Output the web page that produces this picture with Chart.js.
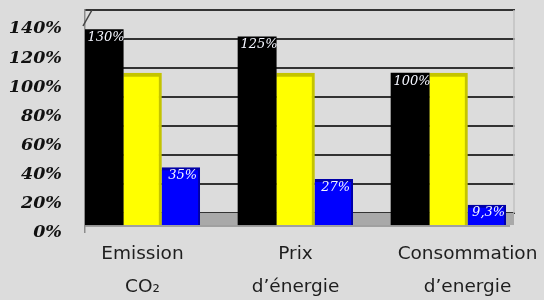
<!DOCTYPE html>
<html>
<head>
<meta charset="utf-8">
<script src="https://cdn.jsdelivr.net/npm/chart.js@4.4.1/dist/chart.umd.min.js"></script>
<style>
    html, body { margin: 0; padding: 0; background: #dcdcdc; }
    #wrap { width: 544px; height: 300px; }
</style>
</head>
<body>
<div id="wrap"><canvas id="chart"></canvas></div>
<script>
// données
const categories = [['Emission', 'CO₂'], ['Prix', 'd’énergie'], ['Consommation', 'd’energie']];
const serieNoire = [130, 125, 100];
const serieJaune = [100, 100, 100];
const serieBleue = [35, 27, 9.3];
const yTicks = [0, 20, 40, 60, 80, 100, 120, 140];

const BG = '#dcdcdc';
const barBase = -4.4; // face avant des barres 3D descend sous le 0
const xFont = { family: 'DejaVu Sans', size: 18.5, lineHeight: 33 / 18.5 };

// format français : 9.3 -> "9,3%"
const fmt = v => String(v).replace('.', ',') + '%';

// décor "3D" : fond du mur, sol gris, bord droit
const decor3d = {
    id: 'decor3d',
    beforeDatasetsDraw(chart) {
        const { ctx, chartArea: a, scales } = chart;
        const g = scales.g, y = scales.y;
        const wallRight = a.right - 30;
        const top = g.getPixelForValue(140);
        const z0 = g.getPixelForValue(0);
        const zb = y.getPixelForValue(barBase);
        ctx.save();
        // masquer la grille au-delà du mur
        ctx.fillStyle = BG;
        ctx.fillRect(wallRight + 1, a.top - 3, a.right - wallRight + 4, a.bottom - a.top + 6);
        // bord droit du mur
        ctx.strokeStyle = '#c2c2c2';
        ctx.lineWidth = 1.5;
        ctx.beginPath();
        ctx.moveTo(wallRight, top);
        ctx.lineTo(wallRight, z0);
        ctx.stroke();
        // sol
        ctx.fillStyle = '#a9a9a9';
        ctx.fillRect(a.left, z0, wallRight - a.left, zb - z0);
        // arête en haut à gauche
        ctx.strokeStyle = '#444';
        ctx.lineWidth = 1.5;
        ctx.beginPath();
        ctx.moveTo(a.left - 2, top + 16);
        ctx.lineTo(a.left + 7, top);
        ctx.stroke();
        ctx.restore();
    },
    afterDatasetsDraw(chart) {
        const { ctx, chartArea: a, scales } = chart;
        const zb = scales.y.getPixelForValue(barBase);
        ctx.save();
        // axe horizontal
        ctx.strokeStyle = '#8c8c8c';
        ctx.lineWidth = 1.5;
        ctx.beginPath();
        ctx.moveTo(a.left, zb + 1);
        ctx.lineTo(a.right - 34, zb + 1);
        ctx.stroke();
        // étiquettes des valeurs (barres noires et bleues)
        ctx.font = 'italic 13px "DejaVu Serif"';
        ctx.textAlign = 'center';
        ctx.textBaseline = 'middle';
        ctx.fillStyle = '#f4f6ff';
        [0, 2].forEach(di => {
            const meta = chart.getDatasetMeta(di);
            meta.data.forEach((bar, i) => {
                ctx.fillText(fmt(chart.data.datasets[di].data[i]), bar.x + 2, bar.y + 8);
            });
        });
        // dernière catégorie : étiquette centrée sur la catégorie (pas décalée)
        const x = scales.x;
        const lh = xFont.size * xFont.lineHeight;
        ctx.font = xFont.size + 'px "' + xFont.family + '"';
        ctx.fillStyle = '#1e1e1e';
        categories[2].forEach((line, k) => {
            ctx.fillText(line, x.getPixelForValue(2), x.top + 6 + lh / 2 + k * lh);
        });
        ctx.restore();
    }
};

const barCommon = {
    barPercentage: 1,
    categoryPercentage: 1,
    base: barBase,
    borderSkipped: false
};

new Chart(document.getElementById('chart'), {
    type: 'bar',
    data: {
        labels: categories,
        datasets: [
            { ...barCommon, label: 'noir', data: serieNoire, backgroundColor: '#000000', borderWidth: 0 },
            { ...barCommon, label: 'jaune', data: serieJaune, backgroundColor: '#ffff00',
              borderColor: '#c4c400', borderWidth: { top: 4, right: 3, left: 0, bottom: 0 } },
            { ...barCommon, label: 'bleu', data: serieBleue, backgroundColor: '#0000ff',
              borderColor: '#0000a8', borderWidth: { top: 3, right: 2, left: 0, bottom: 0 } },
            // emplacement vide = espace entre les groupes
            { ...barCommon, label: '', data: [null, null, null], backgroundColor: 'rgba(0,0,0,0)' }
        ]
    },
    options: {
        responsive: true,
        maintainAspectRatio: false,
        animation: false,
        layout: { padding: { left: 7, top: 10, right: 0, bottom: 0 } },
        plugins: {
            legend: { display: false },
            tooltip: { enabled: false }
        },
        scales: {
            x: {
                afterFit: s => { s.height = 68; s.paddingLeft = 0; s.paddingRight = 0; },
                grid: { display: false, drawTicks: false },
                border: { display: false },
                ticks: {
                    // la 3e étiquette est dessinée par le plugin
                    callback: function (v, i) { return i < 2 ? this.getLabelForValue(v) : ''; },
                    color: '#1e1e1e',
                    font: xFont,
                    padding: 6,
                    labelOffset: -19,
                    maxRotation: 0,
                    autoSkip: false
                }
            },
            y: {
                position: 'left',
                min: -9.2,
                max: 143.4,
                afterBuildTicks: s => { s.ticks = yTicks.map(v => ({ value: v })); },
                afterFit: s => { s.width = 78; s.paddingTop = 0; s.paddingBottom = 0; },
                grid: { display: false, drawTicks: false },
                border: { display: true, color: '#8c8c8c', width: 1.5 },
                ticks: {
                    callback: v => v + '%',
                    color: '#111111',
                    font: { family: 'DejaVu Serif', size: 17.5, weight: 'bold', style: 'italic' },
                    padding: 23,
                    labelOffset: 14
                }
            },
            // grille du mur du fond (décalée par la perspective)
            g: {
                position: 'right',
                min: -13.1,
                max: 140,
                afterBuildTicks: s => { s.ticks = yTicks.map(v => ({ value: v })); },
                afterFit: s => { s.width = 0; s.paddingTop = 0; s.paddingBottom = 0; },
                grid: { color: '#333333', lineWidth: 2, drawTicks: false },
                border: { display: false },
                ticks: { display: false }
            }
        }
    },
    plugins: [decor3d]
});
</script>
</body>
</html>
